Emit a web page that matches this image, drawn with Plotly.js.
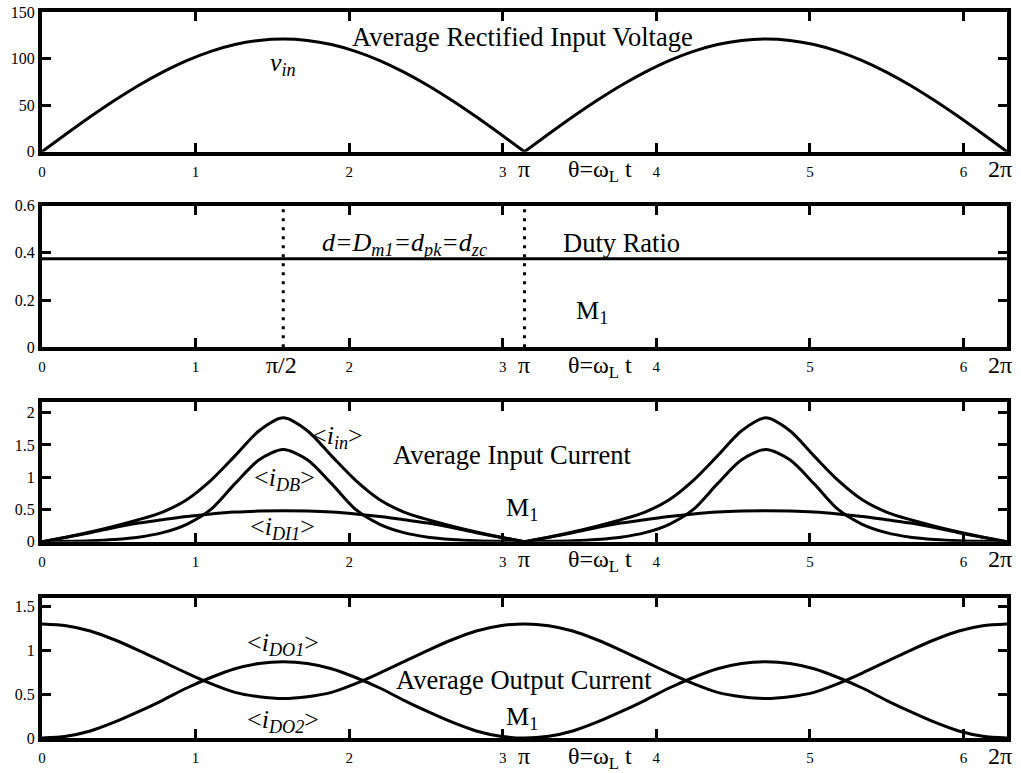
<!DOCTYPE html>
<html>
<head>
<meta charset="utf-8">
<script src="https://cdn.plot.ly/plotly-3.0.1.min.js"></script>
<style>html,body{margin:0;padding:0;background:#fff;}#chart{width:1021px;height:773px;}</style>
</head>
<body>
<div id="chart"></div>
<script>
// Angle samples theta (rad), step pi/20 over 0..2pi
const theta = [0, 0.1571, 0.3142, 0.4712, 0.6283, 0.7854, 0.9425, 1.0996, 1.2566, 1.4137, 1.5708,
  1.7279, 1.8850, 2.0420, 2.1991, 2.3562, 2.5133, 2.6704, 2.8274, 2.9845, 3.1416,
  3.2987, 3.4558, 3.6128, 3.7699, 3.9270, 4.0841, 4.2412, 4.3982, 4.5553, 4.7124,
  4.8695, 5.0265, 5.1836, 5.3407, 5.4978, 5.6549, 5.8119, 5.9690, 6.1261, 6.2832];

// Panel 1: average rectified input voltage
const vin = [0, 18.9, 37.4, 54.9, 71.1, 85.5, 97.9, 107.8, 115.1, 119.5, 121,
  119.5, 115.1, 107.8, 97.9, 85.5, 71.1, 54.9, 37.4, 18.9, 0,
  18.9, 37.4, 54.9, 71.1, 85.5, 97.9, 107.8, 115.1, 119.5, 121,
  119.5, 115.1, 107.8, 97.9, 85.5, 71.1, 54.9, 37.4, 18.9, 0];

// Panel 2: duty ratio
const dutyX = [0, 6.2832];
const duty = [0.375, 0.375];
const markAngles = [1.5708, 3.1416];
const markRange = [0, 0.6];

// Panel 3: average input currents
const iIn = [0, 0.07, 0.15, 0.24, 0.34, 0.46, 0.65, 0.95, 1.33, 1.72, 1.92,
  1.72, 1.33, 0.95, 0.65, 0.46, 0.34, 0.24, 0.15, 0.07, 0,
  0.07, 0.15, 0.24, 0.34, 0.46, 0.65, 0.95, 1.33, 1.72, 1.92,
  1.72, 1.33, 0.95, 0.65, 0.46, 0.34, 0.24, 0.15, 0.07, 0];
const iDB = [0, 0.005, 0.015, 0.035, 0.07, 0.14, 0.27, 0.50, 0.90, 1.27, 1.43,
  1.27, 0.90, 0.50, 0.27, 0.14, 0.07, 0.035, 0.015, 0.005, 0,
  0.005, 0.015, 0.035, 0.07, 0.14, 0.27, 0.50, 0.90, 1.27, 1.43,
  1.27, 0.90, 0.50, 0.27, 0.14, 0.07, 0.035, 0.015, 0.005, 0];
const iDI1 = [0, 0.07, 0.14, 0.22, 0.29, 0.34, 0.39, 0.43, 0.46, 0.475, 0.48,
  0.475, 0.46, 0.43, 0.39, 0.34, 0.29, 0.22, 0.14, 0.07, 0,
  0.07, 0.14, 0.22, 0.29, 0.34, 0.39, 0.43, 0.46, 0.475, 0.48,
  0.475, 0.46, 0.43, 0.39, 0.34, 0.29, 0.22, 0.14, 0.07, 0];

// Panel 4: average output currents
const iDO1 = [0, 0.02, 0.08, 0.18, 0.30, 0.43, 0.57, 0.69, 0.79, 0.85, 0.87,
  0.85, 0.79, 0.69, 0.57, 0.43, 0.30, 0.18, 0.08, 0.02, 0,
  0.02, 0.08, 0.18, 0.30, 0.43, 0.57, 0.69, 0.79, 0.85, 0.87,
  0.85, 0.79, 0.69, 0.57, 0.43, 0.30, 0.18, 0.08, 0.02, 0];
const iDO2 = [1.30, 1.28, 1.22, 1.12, 1.00, 0.87, 0.74, 0.62, 0.52, 0.47, 0.45,
  0.47, 0.52, 0.62, 0.74, 0.87, 1.00, 1.12, 1.22, 1.28, 1.30,
  1.28, 1.22, 1.12, 1.00, 0.87, 0.74, 0.62, 0.52, 0.47, 0.45,
  0.47, 0.52, 0.62, 0.74, 0.87, 1.00, 1.12, 1.22, 1.28, 1.30];

const xTicks = [0, 1, 2, 3, 4, 5, 6];
const yTicks1 = [0, 50, 100, 150];
const yTicks2 = [0, 0.2, 0.4, 0.6];
const yTicks3 = [0, 0.5, 1, 1.5, 2];
const yTicks4 = [0, 0.5, 1, 1.5];

const FONT = "'Liberation Serif', 'Times New Roman', Times, serif";

function curve(x, y, xa, ya, shape) {
  return {x: x, y: y, xaxis: xa, yaxis: ya, type: 'scatter', mode: 'lines',
    line: {color: '#000', width: 3, shape: shape || 'spline', smoothing: 0.8},
    hoverinfo: 'skip', showlegend: false, cliponaxis: false};
}
// split at the cusp (theta = pi) so the spline keeps the sharp corner
function cusped(x, y, xa, ya) {
  return [curve(x.slice(0, 21), y.slice(0, 21), xa, ya),
          curve(x.slice(20), y.slice(20), xa, ya)];
}

const traces = [];
traces.push(...cusped(theta, vin, 'x', 'y'));
traces.push(curve(dutyX, duty, 'x2', 'y2', 'linear'));
markAngles.forEach(function (a) {
  traces.push({x: [a, a], y: markRange, xaxis: 'x2', yaxis: 'y2', type: 'scatter', mode: 'lines',
    line: {color: '#000', width: 3, dash: '3px,6px'}, hoverinfo: 'skip', showlegend: false});
});
traces.push(...cusped(theta, iIn, 'x3', 'y3'));
traces.push(...cusped(theta, iDB, 'x3', 'y3'));
traces.push(...cusped(theta, iDI1, 'x3', 'y3'));
traces.push(curve(theta, iDO1, 'x4', 'y4'));
traces.push(curve(theta, iDO2, 'x4', 'y4'));

function xAxis(anchor) {
  return {anchor: anchor, range: [0, 2 * Math.PI], tickmode: 'array', tickvals: xTicks,
    showline: true, linewidth: 4, linecolor: '#000', mirror: 'ticks',
    ticks: 'inside', ticklen: 9, tickwidth: 3, tickcolor: '#000', ticklabelstandoff: 3,
    showgrid: false, zeroline: false, fixedrange: true,
    tickfont: {family: FONT, size: 15, color: '#000'}};
}
function yAxis(anchor, domain, range, ticks) {
  return {anchor: anchor, domain: domain, range: range, tickmode: 'array', tickvals: ticks,
    showline: true, linewidth: 4, linecolor: '#000', mirror: 'ticks',
    ticks: 'inside', ticklen: 9, tickwidth: 3, tickcolor: '#000',
    showgrid: false, zeroline: false, fixedrange: true,
    tickfont: {family: FONT, size: 16, color: '#000'}};
}

function ann(text, x, y, xref, yref, size) {
  return {text: text, x: x, y: y, xref: xref, yref: yref, showarrow: false,
    xanchor: 'center', yanchor: 'middle', font: {family: FONT, size: size, color: '#000'}};
}

const annotations = [];
const panels = [['x', 'y domain'], ['x2', 'y2 domain'], ['x3', 'y3 domain'], ['x4', 'y4 domain']];
panels.forEach(function (p) {
  annotations.push(ann('π', 3.138, -0.125, p[0], p[1], 24));
  annotations.push(ann('2π', 6.237, -0.125, p[0], p[1], 24));
  annotations.push(ann('θ=ω<sub>L</sub> t', 3.633, -0.14, p[0], p[1], 24));
});
annotations.push(ann('π/2', 1.5625, -0.125, 'x2', 'y2 domain', 24));

annotations.push(ann('Average Rectified Input Voltage', 3.13, 0.82, 'x', 'y domain', 26.5));
annotations.push(ann('<i>v<sub>in</sub></i>', 1.57, 0.63, 'x', 'y domain', 26));

annotations.push(ann('<i>d=D<sub>m1</sub>=d<sub>pk</sub>=d<sub>zc</sub></i>', 2.36, 0.73, 'x2', 'y2 domain', 26));
annotations.push(ann('Duty Ratio', 3.77, 0.737, 'x2', 'y2 domain', 26.5));
annotations.push(ann('M<sub>1</sub>', 3.58, 0.25, 'x2', 'y2 domain', 26));

annotations.push(ann('&lt;<i>i<sub>in</sub></i>&gt;', 1.927, 0.745, 'x3', 'y3 domain', 26));
annotations.push(ann('&lt;<i>i<sub>DB</sub></i>&gt;', 1.576, 0.45, 'x3', 'y3 domain', 26));
annotations.push(ann('&lt;<i>i<sub>DI1</sub></i>&gt;', 1.569, 0.095, 'x3', 'y3 domain', 26));
annotations.push(ann('Average Input Current', 3.066, 0.619, 'x3', 'y3 domain', 26.5));
annotations.push(ann('M<sub>1</sub>', 3.125, 0.235, 'x3', 'y3 domain', 26));

annotations.push(ann('&lt;<i>i<sub>DO1</sub></i>&gt;', 1.569, 0.67, 'x4', 'y4 domain', 26));
annotations.push(ann('&lt;<i>i<sub>DO2</sub></i>&gt;', 1.569, 0.12, 'x4', 'y4 domain', 26));
annotations.push(ann('Average Output Current', 3.138, 0.412, 'x4', 'y4 domain', 26.5));
annotations.push(ann('M<sub>1</sub>', 3.125, 0.14, 'x4', 'y4 domain', 26));

const layout = {
  width: 1021, height: 773,
  margin: {l: 42, r: 14, t: 12, b: 35},
  paper_bgcolor: '#fff', plot_bgcolor: '#fff',
  font: {family: FONT, color: '#000'},
  showlegend: false,
  xaxis: xAxis('y'), xaxis2: xAxis('y2'), xaxis3: xAxis('y3'), xaxis4: xAxis('y4'),
  yaxis: yAxis('x', [0.8076, 1], [0, 150], yTicks1),
  yaxis2: yAxis('x2', [0.5382, 0.7332], [0, 0.6], yTicks2),
  yaxis3: yAxis('x3', [0.2704, 0.4632], [0, 2.17], yTicks3),
  yaxis4: yAxis('x4', [0, 0.1933], [0, 1.6], yTicks4),
  annotations: annotations
};

Plotly.newPlot('chart', traces, layout, {displayModeBar: false});
</script>
</body>
</html>
